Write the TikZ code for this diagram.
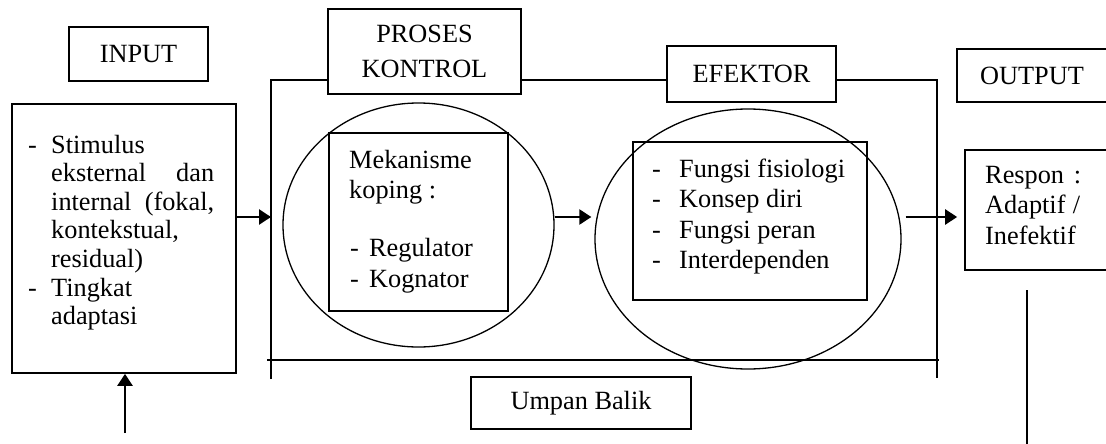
\documentclass[tikz,border=0pt]{standalone}
\usepackage{fontspec}
\setmainfont{Liberation Serif}
\usetikzlibrary{arrows.meta,shapes.geometric}
\begin{document}
\begin{tikzpicture}[x=1pt,y=-1pt,
  box/.style={draw,line width=1.7pt,rectangle,inner sep=0pt,font=\fontsize{26.3}{35}\selectfont,align=center},
  oval/.style={draw,line width=1.3pt,ellipse,inner sep=0pt},
  txt/.style={inner sep=0pt,anchor=base west,font=\fontsize{26.3}{30.5}\selectfont},
  frame/.style={line width=2pt},
  arr/.style={line width=2.4pt,-{Triangle[length=12pt,width=15pt]}}]
\useasboundingbox (0,0) rectangle (1106,444);
% header boxes
\node[box,minimum width=139pt,minimum height=54pt] (inp) at (138.5,54) {INPUT};
\node[box,minimum width=193pt,minimum height=85pt] (pk) at (424.5,51.5) {PROSES\\KONTROL};
\node[box,minimum width=169pt,minimum height=56pt] (ef) at (751.5,74) {EFEKTOR};
\node[box,minimum width=153pt,minimum height=53pt] (out) at (1033.5,75.5) {\hspace*{-3pt}OUTPUT};
\node[box,minimum width=220pt,minimum height=52pt] (ub) at (581,403) {Umpan Balik};
% content boxes
\node[box,minimum width=224pt,minimum height=269pt] (inbox) at (124,238.5) {};
\node[oval,minimum width=271pt,minimum height=244pt] (e1) at (418.5,225) {};
\node[box,minimum width=179pt,minimum height=178pt] (mk) at (418.5,222) {};
\node[oval,minimum width=306pt,minimum height=260pt] (e2) at (748,239) {};
\node[box,minimum width=234pt,minimum height=158pt] (fx) at (750,221) {};
\node[box,minimum width=150pt,minimum height=120pt] (rs) at (1040,210) {};
% texts
\node[txt,font=\fontsize{26.3}{28.6}\selectfont] (tin) at (28,153) {\begin{tabular}[t]{@{}p{23pt}@{}p{163pt}@{}}
-&Stimulus\\
&\makebox[163pt][s]{eksternal dan}\\
&\makebox[163pt][s]{internal (fokal,}\\
&kontekstual,\\
&residual)\\
-&Tingkat\\
&adaptasi
\end{tabular}};
\node[txt] (tmk) at (349,168.3) {\begin{tabular}[t]{@{}l@{}}Mekanisme\\koping :\end{tabular}};
\node[txt] (treg) at (350,256.7) {\begin{tabular}[t]{@{}p{19pt}@{}l@{}}-&Regulator\\-&Kognator\end{tabular}};
\node[txt] (tfx) at (652,177) {\begin{tabular}[t]{@{}p{27pt}@{}l@{}}-&Fungsi fisiologi\\-&Konsep diri\\-&Fungsi peran\\-&Interdependen\end{tabular}};
\node[txt] (trs) at (985,183) {\begin{tabular}[t]{@{}l@{}}\makebox[96pt][s]{Respon :}\\\makebox[95pt][s]{Adaptif /}\\Inefektif\end{tabular}};
% frame
\coordinate (ftl) at (271,80);
\coordinate (ftr) at (937,80);
\coordinate (fbl) at (271,379);
\coordinate (fbr) at (937,378);
\coordinate (hb1) at (267,360);
\coordinate (hb2) at (939,360);
\draw[frame] (fbl) -- (ftl) -- (pk.west |- ftl);
\draw[frame] (pk.east |- ftl) -- (ef.west |- ftl);
\draw[frame] (ef.east |- ftl) -- (ftr) -- (fbr);
\draw[frame] (hb1) -- (hb2);
% arrows
\coordinate (ay) at (0,217);
\draw[arr] (inbox.east |- ay) -- (ftl |- ay);
\draw[arr] (e1.east |- ay) -- ([xshift=-3pt]e2.west |- ay);
\draw[arr] ([xshift=4pt]e2.east |- ay) -- ([xshift=-7pt]rs.west |- ay);
\coordinate (ib) at (125,433);
\draw[arr] (ib) -- (inbox.south -| ib);
\coordinate (ov1) at (1027,290);
\coordinate (ov2) at (1027,446);
\draw[frame] (ov1) -- (ov2);
\end{tikzpicture}
\end{document}
